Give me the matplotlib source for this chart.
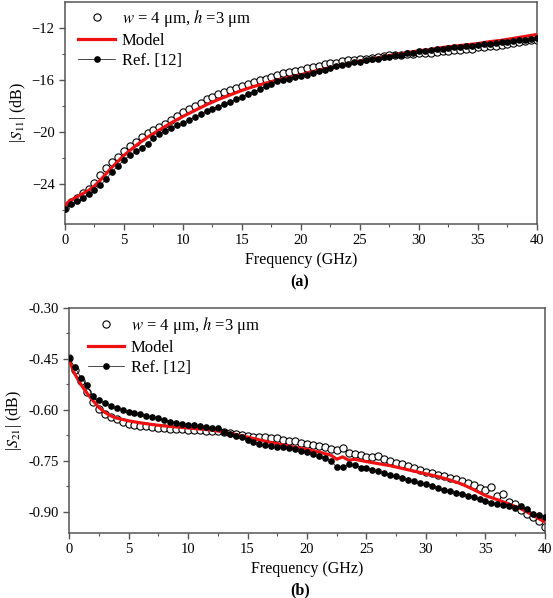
import numpy as np
import matplotlib
matplotlib.use('Agg')
import matplotlib.pyplot as plt

plt.rcParams['font.family'] = 'Liberation Serif'
plt.rcParams['mathtext.fontset'] = 'stix'

# ---- (a) |S11| data ----
freq_pts = np.arange(0, 40.01, 0.5)

s11_meas = [-25.85, -25.4, -25.1, -24.7, -24.35, -23.9, -23.3, -22.8, -22.3, -21.9,
            -21.5, -21.1, -20.75, -20.4, -20.1, -19.85, -19.6, -19.35, -19.1, -18.8,
            -18.5, -18.25, -18.0, -17.75, -17.5, -17.3, -17.1, -16.95, -16.8, -16.6,
            -16.45, -16.3, -16.15, -16.0, -15.9, -15.75, -15.65, -15.5, -15.4, -15.3,
            -15.2, -15.1, -15.0, -14.9, -14.8, -14.7, -14.7, -14.55, -14.5, -14.45,
            -14.4, -14.35, -14.3, -14.25, -14.15, -14.1, -14.1, -14.05, -14.0, -13.98,
            -13.95, -13.92, -13.9, -13.85, -13.8, -13.75, -13.72, -13.68, -13.62, -13.58,
            -13.5, -13.45, -13.4, -13.35, -13.3, -13.2, -13.15, -13.05, -13.0, -12.95,
            -12.9]

s11_ref = [-25.9, -25.55, -25.3, -25.05, -24.8, -24.5, -24.1, -23.6, -23.05, -22.6,
           -22.15, -21.8, -21.5, -21.2, -20.9, -20.5, -20.15, -19.9, -19.7, -19.5,
           -19.3, -19.05, -18.85, -18.6, -18.4, -18.2, -18.05, -17.85, -17.7, -17.5,
           -17.3, -17.1, -16.9, -16.7, -16.5, -16.3, -16.1, -16.0, -15.9, -15.8,
           -15.7, -15.6, -15.45, -15.3, -15.2, -15.1, -14.95, -14.85, -14.75, -14.65,
           -14.6, -14.5, -14.4, -14.35, -14.25, -14.2, -14.1, -14.05, -13.95, -13.9,
           -13.8, -13.75, -13.7, -13.65, -13.6, -13.55, -13.5, -13.45, -13.4, -13.35,
           -13.3, -13.25, -13.2, -13.15, -13.1, -13.05, -13.0, -12.95, -12.9, -12.85,
           -12.8]

freq_model = [0, 0.2, 0.5, 1, 1.5, 2, 2.5, 3, 3.5, 4, 5, 6, 7, 8, 9, 10, 11, 12, 13, 14,
              15, 16, 17, 18, 19, 20, 21, 22, 23, 24, 25, 26, 27, 28, 29, 30, 31, 32,
              33, 34, 35, 36, 37, 38, 39, 40]
s11_model = [-25.7, -25.45, -25.25, -25.0, -24.75, -24.5, -24.15, -23.7, -23.2, -22.7,
             -21.8, -21.05, -20.4, -19.85, -19.3, -18.8, -18.35, -17.9, -17.5, -17.15,
             -16.8, -16.5, -16.25, -16.0, -15.8, -15.6, -15.35, -15.15, -14.95, -14.75,
             -14.55, -14.4, -14.2, -14.05, -13.9, -13.75, -13.65, -13.5, -13.4, -13.3,
             -13.2, -13.05, -12.95, -12.8, -12.65, -12.5]

# ---- (b) |S21| data ----
s21_meas = [-0.447, -0.483, -0.515, -0.548, -0.578, -0.598, -0.612, -0.622, -0.628, -0.634,
            -0.640, -0.643, -0.646, -0.648, -0.650, -0.652, -0.654, -0.655, -0.656, -0.657,
            -0.658, -0.659, -0.660, -0.661, -0.662, -0.662, -0.666, -0.669, -0.672, -0.674,
            -0.677, -0.679, -0.680, -0.681, -0.682, -0.684, -0.687, -0.690, -0.692, -0.696,
            -0.700, -0.704, -0.707, -0.710, -0.714, -0.718, -0.712, -0.727, -0.730, -0.733,
            -0.737, -0.738, -0.735, -0.744, -0.750, -0.756, -0.760, -0.765, -0.772, -0.778,
            -0.783, -0.786, -0.790, -0.795, -0.800, -0.804, -0.810, -0.815, -0.820, -0.830,
            -0.835, -0.828, -0.852, -0.848, -0.870, -0.878, -0.895, -0.905, -0.915, -0.928,
            -0.943]

s21_ref = [-0.447, -0.475, -0.505, -0.527, -0.560, -0.572, -0.580, -0.588, -0.595, -0.600,
           -0.605, -0.609, -0.613, -0.617, -0.620, -0.625, -0.630, -0.634, -0.637, -0.640,
           -0.643, -0.645, -0.648, -0.650, -0.652, -0.654, -0.665, -0.670, -0.676, -0.681,
           -0.687, -0.694, -0.699, -0.703, -0.706, -0.709, -0.709, -0.712, -0.716, -0.720,
           -0.724, -0.729, -0.735, -0.742, -0.750, -0.768, -0.768, -0.760, -0.762, -0.770,
           -0.772, -0.776, -0.780, -0.786, -0.790, -0.794, -0.800, -0.806, -0.810, -0.815,
           -0.818, -0.823, -0.830, -0.835, -0.838, -0.843, -0.846, -0.852, -0.855, -0.863,
           -0.868, -0.873, -0.877, -0.880, -0.884, -0.887, -0.884, -0.890, -0.905, -0.908,
           -0.915]

freq_model2 = [0, 0.25, 0.5, 1, 1.5, 2, 2.5, 3, 3.5, 4, 5, 6, 7, 8, 9, 10, 11, 12, 13, 14,
               15, 16, 17, 18, 19, 20, 21, 22, 22.5, 23, 23.5, 24, 25, 26, 27, 28, 29, 30,
               31, 32, 33, 34, 35, 36, 37, 38, 39, 40]
s21_model = [-0.447, -0.475, -0.495, -0.525, -0.550, -0.572, -0.592, -0.607, -0.617, -0.624,
             -0.632, -0.638, -0.643, -0.647, -0.650, -0.653, -0.656, -0.659, -0.665, -0.672,
             -0.680, -0.688, -0.696, -0.703, -0.710, -0.716, -0.724, -0.733, -0.745, -0.738,
             -0.748, -0.745, -0.752, -0.758, -0.764, -0.772, -0.780, -0.788, -0.796, -0.806,
             -0.818, -0.834, -0.852, -0.864, -0.877, -0.891, -0.910, -0.930]

legend_labels = [r'$w$ = 4 μm, $h$ =3 μm', 'Model', 'Ref. [12]']

fig = plt.figure(figsize=(5.53, 5.98), dpi=100)
ax1 = fig.add_axes([0.1175, 0.6254, 0.8535, 0.3713])
ax2 = fig.add_axes([0.1248, 0.1087, 0.8607, 0.3763])


def draw(ax, f_m, meas, f_mod, mod, ref, anchor):
    h1, = ax.plot(f_m, meas, 'o', ms=5.2, mfc='white', mec='black', mew=0.8,
                  label=legend_labels[0], zorder=2)
    h2, = ax.plot(f_mod, mod, '-', color='#ee1111', lw=2.3, label=legend_labels[1], zorder=3)
    h3, = ax.plot(f_m, ref, 'o-', ms=3.8, color='black', lw=0.5, label=legend_labels[2],
                  zorder=4)
    ax.set_xlim(0, 40)
    ax.set_xticks(range(0, 41, 5))
    ax.set_xticks(np.arange(0, 40.1, 2.5), minor=True)
    ax.set_xlabel('Frequency (GHz)', fontsize=11.5, labelpad=3)
    for sp in ax.spines.values():
        sp.set_color('#555555')
        sp.set_linewidth(1.1)
    ax.tick_params(which='both', direction='out', color='#555555', labelsize=10.5)
    ax.tick_params(which='major', length=4, width=1)
    ax.tick_params(which='minor', length=2.5, width=0.8)
    leg = ax.legend(handles=[h1, h2, h3], loc='upper left', bbox_to_anchor=anchor,
                    frameon=False, fontsize=12, numpoints=1, handlelength=2.2,
                    handletextpad=0.4, labelspacing=0.22, borderaxespad=0.6, borderpad=0.2)
    return leg


draw(ax1, freq_pts, s11_meas, freq_model, s11_model, s11_ref, (0.0, 1.032))
ax1.set_ylim(-27.08, -10)
ax1.set_yticks([-24, -20, -16, -12])
ax1.set_yticks(np.arange(-26, -10, 2), minor=True)
ax1.set_ylabel(r'|$S_{11}$| (dB)', fontsize=11.5, labelpad=3)

draw(ax2, freq_pts, s21_meas, freq_model2, s21_model, s21_ref, (0.011, 1.027))
ax2.set_ylim(-0.962, -0.30)
ax2.set_yticks([-0.90, -0.75, -0.60, -0.45, -0.30])
ax2.set_yticklabels(['-0.90', '-0.75', '-0.60', '-0.45', '-0.30'])
ax2.set_yticks(np.arange(-0.975, -0.30, 0.075), minor=True)
ax2.set_ylim(-0.962, -0.30)
ax2.set_ylabel(r'|$S_{21}$| (dB)', fontsize=11.5, labelpad=3)

fig.text(0.5425, 1 - 282 / 598, '(a)', fontsize=11.5, fontweight='bold', ha='center', va='center')
fig.text(0.5425, 1 - 590 / 598, '(b)', fontsize=11.5, fontweight='bold', ha='center', va='center')

fig.savefig('out.png', dpi=100)
